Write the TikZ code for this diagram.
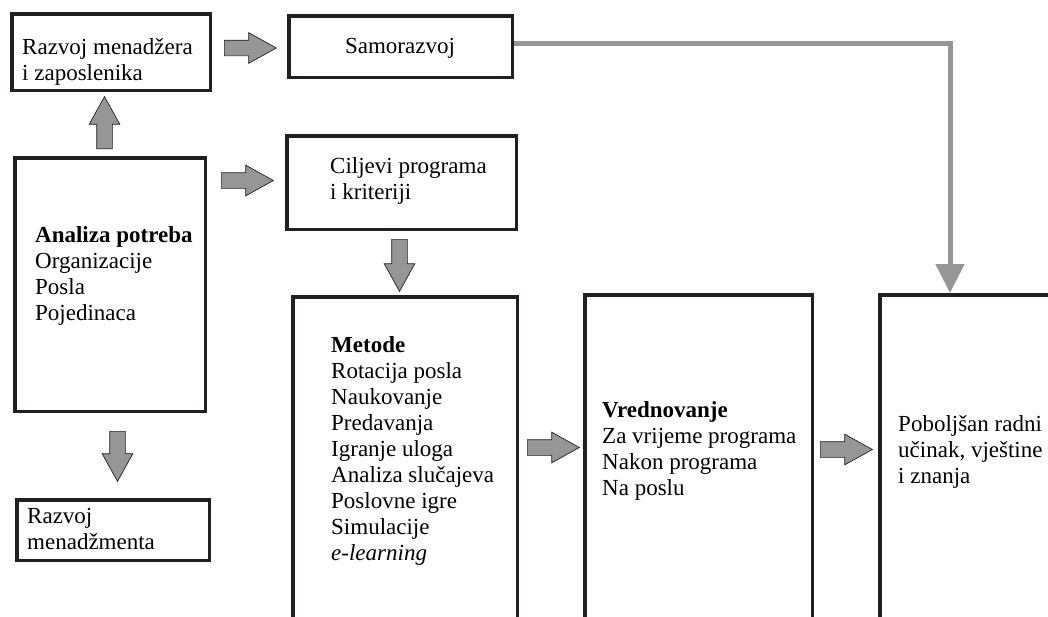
\documentclass[tikz,border=0pt]{standalone}
\usepackage{fontspec}
\setmainfont{Liberation Serif}
\usetikzlibrary{shapes.arrows,arrows.meta}

\definecolor{boxline}{RGB}{35,31,32}
\definecolor{arrowfill}{RGB}{150,150,150}

\tikzset{
    box/.style={draw=boxline, line width=3.5pt, anchor=north west, inner sep=0pt},
    % anchored at the baseline of the last line
    boxtext/.style={anchor=base west, align=left, inner sep=0pt,
        font=\fontsize{23}{26}\selectfont},
    blockarrow/.style={single arrow, draw=boxline, fill=arrowfill, line width=0.7pt,
        minimum height=52pt, single arrow head extend=7.5pt,
        single arrow tip angle=58, inner xsep=0pt, inner ysep=7.5pt, anchor=tail},
    feedline/.style={draw=arrowfill, line width=5pt,
        -{Triangle[width=28pt,length=29pt]}}
}

\begin{document}
\begin{tikzpicture}[x=1pt,y=-1pt]
    \useasboundingbox (0,0) rectangle (1048,616);
    \clip (0,0) rectangle (1048,616);

    % Boxes
    \node[box, minimum width=198.5pt, minimum height=76.5pt] (razvoj) at (10,12) {};
    \node[box, minimum width=223.5pt, minimum height=61.5pt] (samo) at (287,14) {};
    \node[box, minimum width=190.5pt, minimum height=253.5pt] (analiza) at (13,156) {};
    \node[box, minimum width=229.5pt, minimum height=93.5pt] (ciljevi) at (285,134) {};
    \node[box, minimum width=192.5pt, minimum height=60.5pt] (menadz) at (15,498) {};

    % Tall boxes, cut by the page edge
    \node[box, minimum width=224.5pt, minimum height=400pt] (metode) at (291,295) {};
    \node[box, minimum width=227.5pt, minimum height=400pt] (vred) at (583,293) {};
    \node[box, minimum width=300pt, minimum height=400pt] (pob) at (878,293) {};

    % Texts
    \node[boxtext] (t-razvoj) at (22,80) {Razvoj menadžera\\i zaposlenika};
    \node[boxtext, anchor=base] (t-samo) at (400,53) {Samorazvoj};
    \node[boxtext] (t-analiza) at (35,320) {\textbf{Analiza potreba}\\Organizacije\\Posla\\Pojedinaca};
    \node[boxtext] (t-ciljevi) at (330,199) {Ciljevi programa\\i kriteriji};
    \node[boxtext] (t-menadz) at (27,549) {Razvoj\\menadžmenta};
    \node[boxtext] (t-metode) at (331,560) {\textbf{Metode}\\Rotacija posla\\Naukovanje\\Predavanja\\Igranje uloga\\Analiza slučajeva\\Poslovne igre\\Simulacije\\\textit{e-learning}};
    \node[boxtext] (t-vred) at (602,495) {\textbf{Vrednovanje}\\Za vrijeme programa\\Nakon programa\\Na poslu};
    \node[boxtext] (t-pob) at (898,483) {Poboljšan radni\\učinak, vještine\\i znanja};

    % Block arrows (placed by their tail)
    \node[blockarrow] (a1) at (224,48) {};
    \node[blockarrow, rotate=90] (a2) at (104.5,149) {};
    \node[blockarrow] (a3) at (221,180.5) {};
    \node[blockarrow, rotate=-90] (a4) at (399.5,239) {};
    \node[blockarrow] (a5) at (527,447.5) {};
    \node[blockarrow] (a6) at (820,449.5) {};
    \node[blockarrow, rotate=-90, minimum height=50pt] (a7) at (117.5,431) {};

    % Samorazvoj feeds the result
    \draw[feedline] ([yshift=3.5pt]samo.east) -| ([xshift=72pt]pob.north west);
\end{tikzpicture}
\end{document}
